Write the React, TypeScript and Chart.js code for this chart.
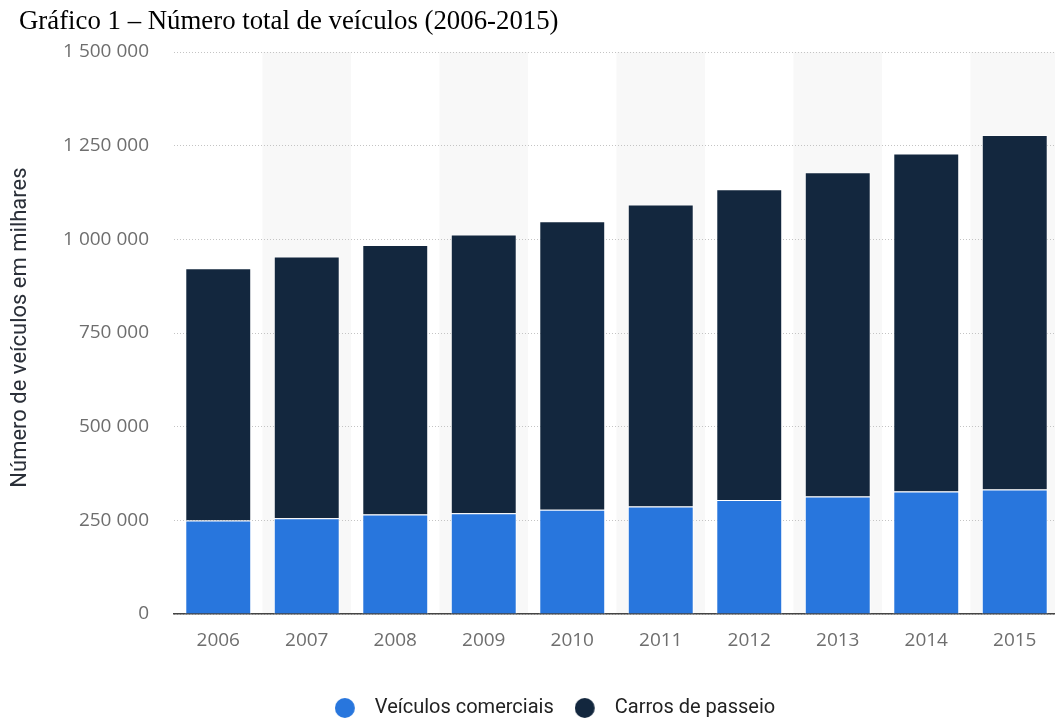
import React, { useEffect, useRef } from "react";
import { Chart, registerables } from "chart.js";

Chart.register(...registerables);

const years = ["2006", "2007", "2008", "2009", "2010", "2011", "2012", "2013", "2014", "2015"];
const veiculosComerciais = [249500, 255500, 265400, 268800, 278000, 286800, 304600, 313500, 326800, 332200];
const carrosPasseio = [673300, 698500, 719600, 744000, 770400, 806200, 829300, 865800, 902500, 946000];
const seriesLabels = ["Veículos comerciais", "Carros de passeio"];
const seriesColors = ["#2876dd", "#13273e"];
const yTickMax = 1500000;
const yTickStep = 250000;
const chartTitle = "Gráfico 1 – Número total de veículos (2006-2015)";
const yAxisTitle = "  Número de veículos em milhares";

function formatThousands(v: number): string {
  return String(v).replace(/\B(?=(\d{3})+(?!\d))/g, " ");
}

function makeDot(color: string): HTMLCanvasElement {
  const c = document.createElement("canvas");
  c.width = 30;
  c.height = 20;
  const ctx = c.getContext("2d")!;
  ctx.fillStyle = color;
  ctx.beginPath();
  ctx.arc(10, 10, 10, 0, Math.PI * 2);
  ctx.fill();
  return c;
}

const bandPlugin = {
  id: "bands",
  beforeDraw(chart: any) {
    const { ctx, chartArea } = chart;
    const x = chart.scales.x;
    if (!x || !chartArea) return;
    ctx.save();
    ctx.fillStyle = "#f8f8f8";
    const n = x.ticks.length;
    const half = (chartArea.right - chartArea.left) / n / 2;
    for (let i = 1; i < n; i += 2) {
      const c = x.getPixelForTick(i);
      ctx.fillRect(c - half, chartArea.top, half * 2, chartArea.bottom - chartArea.top);
    }
    ctx.restore();
  },
};

export default function App() {
  const ref = useRef<HTMLCanvasElement | null>(null);

  useEffect(() => {
    if (!ref.current) return;
    const dots = seriesColors.map(makeDot);
    const chart = new Chart(ref.current, {
      type: "bar",
      data: {
        labels: years,
        datasets: [
          {
            label: seriesLabels[0],
            data: veiculosComerciais,
            backgroundColor: seriesColors[0],
            borderColor: "#ffffff",
            borderWidth: 1,
          },
          {
            label: seriesLabels[1],
            data: carrosPasseio,
            backgroundColor: seriesColors[1],
            borderColor: "rgba(255,255,255,0.6)",
            borderWidth: 1,
          },
        ],
      },
      options: {
        responsive: false,
        animation: false,
        layout: { padding: { left: 51, right: 51, top: 52, bottom: 2 } },
        datasets: { bar: { categoryPercentage: 1, barPercentage: 0.745 } },
        scales: {
          x: {
            stacked: true,
            z: 1,
            grid: { display: false, drawTicks: false },
            border: { display: true, color: "#444444", width: 1.5 },
            ticks: {
              padding: 15,
              color: "#6e6e6e",
              font: { family: "'Open Sans'", size: 19 },
              maxRotation: 0,
            },
            afterFit: (s: any) => {
              s.height = 63;
            },
          },
          y: {
            stacked: true,
            min: 0,
            max: yTickMax,
            grid: {
              drawTicks: false,
              color: "#c4c4c4",
              lineWidth: 1,
            },
            border: { display: false, dash: [1, 2] },
            ticks: {
              stepSize: yTickStep,
              padding: 25,
              color: "#6e6e6e",
              font: { family: "'Open Sans'", size: 19 },
              callback: (v: any) => formatThousands(Number(v)),
            },
            title: {
              display: true,
              text: yAxisTitle,
              color: "#2a2f38",
              font: { family: "Roboto", size: 22 },
              padding: { top: -44, bottom: 0 },
            },
            afterFit: (s: any) => {
              s.width = 123;
            },
          },
        },
        plugins: {
          legend: {
            position: "bottom",
            labels: {
              usePointStyle: true,
              pointStyleWidth: 30,
              boxHeight: 20,
              padding: 21,
              color: "#222222",
              font: { family: "Roboto", size: 20 },
              generateLabels: (ch: any) => {
                const items = Chart.defaults.plugins.legend.labels.generateLabels(ch);
                return items.map((it: any, i: number) => ({ ...it, pointStyle: dots[i] }));
              },
            },
          },
          tooltip: { enabled: false },
        },
      },
      plugins: [bandPlugin],
    } as any);
    return () => chart.destroy();
  }, []);

  return (
    <div
      style={{
        position: "fixed",
        left: 0,
        top: 0,
        width: 1055,
        height: 722,
        overflow: "hidden",
        background: "#ffffff",
      }}
    >
      <canvas
        ref={ref}
        width={1110}
        height={730}
        style={{ position: "absolute", left: 0, top: 0, width: 1110, height: 730 }}
      />
      <div
        style={{
          position: "absolute",
          left: 19,
          top: 7,
          fontFamily: "'Liberation Serif', 'Times New Roman', serif",
          fontSize: 26.8,
          lineHeight: 1,
          color: "#000000",
          whiteSpace: "nowrap",
        }}
      >
        {chartTitle}
      </div>
    </div>
  );
}
